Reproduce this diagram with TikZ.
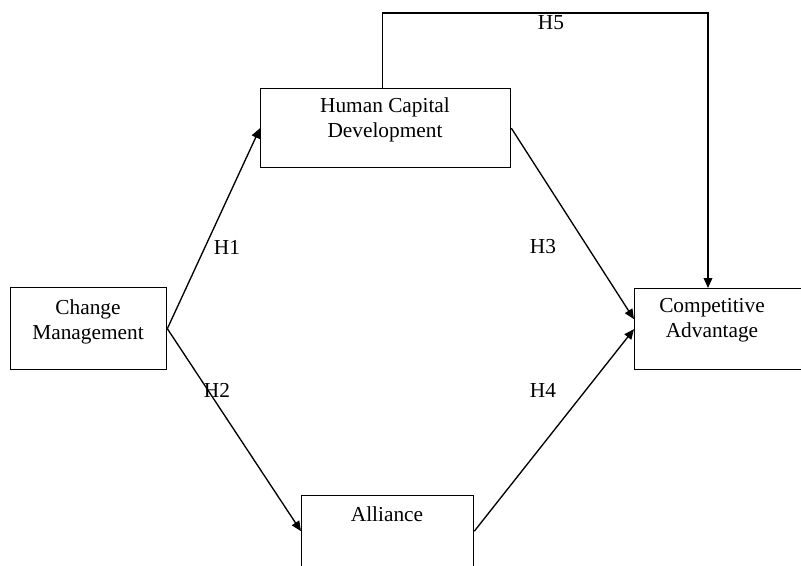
\documentclass[tikz,border=0pt]{standalone}
\usepackage{fontspec}
\setmainfont{Liberation Serif}
\usetikzlibrary{arrows.meta,calc}
\begin{document}
\begin{tikzpicture}[x=0.75pt,y=-0.75pt,
  box/.style={draw, line width=1pt, rectangle, inner sep=0pt, anchor=north west},
  txt/.style={inner sep=0pt, align=center, font=\fontsize{16}{19}\selectfont},
  arr/.style={line width=1pt, -{Triangle[length=7.5pt,width=6.5pt]}}]
\useasboundingbox (0,0) rectangle (801,565);

% boxes
\node[box, minimum width=117pt, minimum height=61.5pt] (cm) at (10,287) {};
\node[box, minimum width=187.5pt, minimum height=59.25pt] (hcd) at (260,88) {};
\node[box, minimum width=129pt, minimum height=53.25pt] (al) at (301,495) {};
\node[box, minimum width=129pt, minimum height=60.75pt] (ca) at (634,288) {};

% box texts
\node[txt] (cmtext) at (88,322) {Change\\Management};
\node[txt] (hcdtext) at (385,120) {Human Capital\\Development};
\node[txt] (altext) at (387,514) {Alliance};
\node[txt] (catext) at (712,320) {Competitive\\Advantage};

% connectors
\draw[arr] (cm.east) -- (hcd.west);
\draw[arr] (cm.east) -- (al.west);
\draw[arr] (hcd.east) -- ($(ca.west)+(0,-10)$);
\draw[arr] (al.east) -- (ca.west);
\coordinate (h5c) at (708,13);
\draw[arr] ($(hcd.north)+(-3,0)$) |- (h5c) -- (h5c |- ca.north);

% hypothesis labels
\node[txt] (h1) at (227,247) {H1};
\node[txt] (h2) at (217,390) {H2};
\node[txt] (h3) at (543,247) {H3};
\node[txt] (h4) at (543,390) {H4};
\node[txt] (h5) at (551,23) {H5};
\end{tikzpicture}
\end{document}
